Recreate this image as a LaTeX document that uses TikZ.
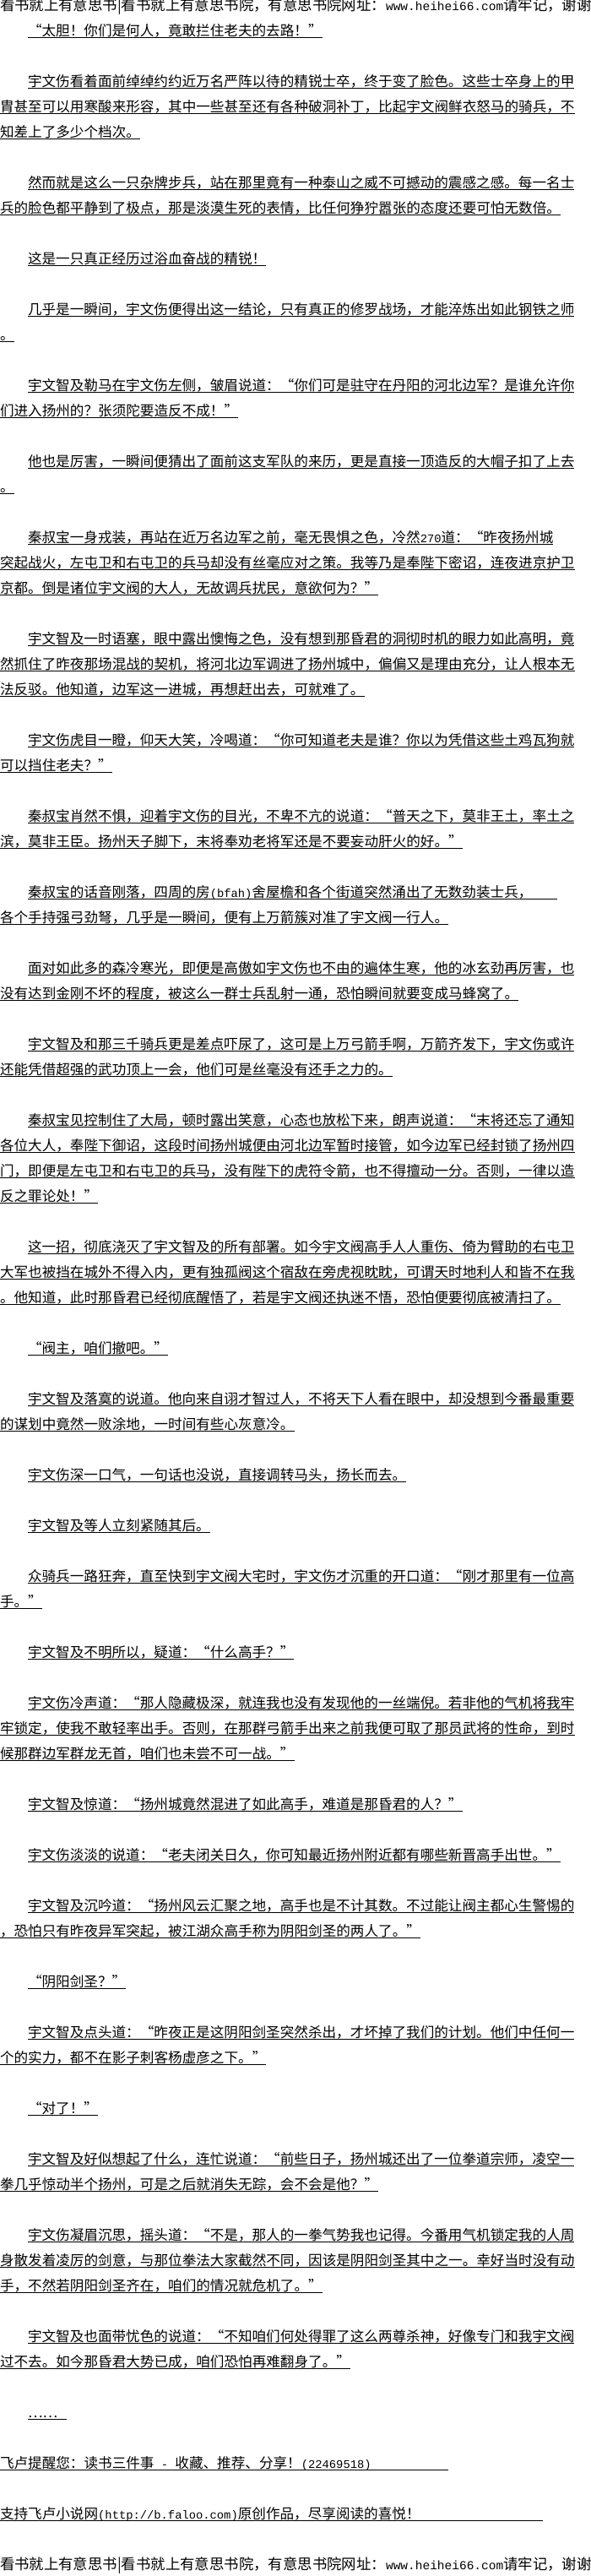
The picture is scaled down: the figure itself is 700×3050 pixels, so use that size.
\documentclass[tikz,border=0pt]{standalone}
\usepackage{fontspec}
\newfontfamily\cjk{Noto Sans CJK SC}
\newfontfamily\latmono{Liberation Mono}
\newcommand\qo{\makebox[1em][r]{“}}
\newcommand\qc{\makebox[1em][l]{”}}
\newcommand\lat[1]{{\latmono\fontsize{13.8pt}{13.8pt}\selectfont #1}}
\newcommand\lath[1]{{\latmono\fontsize{14.5pt}{14.5pt}\selectfont #1}}
\tikzset{
  tl/.style={inner sep=0pt, outer sep=0pt, anchor=base west, text=black,
    font=\cjk\fontsize{16.6pt}{16.6pt}\selectfont},
  hd/.style={tl, font=\cjk\fontsize{17.4pt}{17.4pt}\selectfont},
  ul/.style={draw=black, line width=1pt}
}
% #1 slot, #2 x start, #3 text
\newcommand\TL[3]{%
  \node[tl] (l#1) at (#2,{97+30*(#1)+5.5}) {#3};
  \draw[ul] ([yshift=-1.5pt]l#1.base west) -- ([yshift=-1.5pt]l#1.base east);
}
% #1 slot, #2 x start, #3 underline end, #4 text
\newcommand\TLx[4]{%
  \node[tl] (l#1) at (#2,{97+30*(#1)+5.5}) {#4};
  \coordinate (e#1) at (#3,{97+30*(#1)+5.5});
  \draw[ul] ([yshift=-1.5pt]l#1.base west) -- ([yshift=-1.5pt]e#1);
}
\begin{document}
\begin{tikzpicture}[x=1pt,y=-1pt]
\fill[white] (0,0) rectangle (700,3050);
\useasboundingbox (0,0) rectangle (700,3050);

\node[hd] (hdr) at (0,{97+30*(-3)+5.5}) {看书就上有意思书|看书就上有意思书院，有意思书院网址：\lath{www.heihei66.com}请牢记，谢谢};

\node[tl] (lq) at (33,{97+30*(-2)+5.5}) {\qo{}太胆！你们是何人，竟敢拦住老夫的去路！\qc{}};
\draw[ul] ([yshift=-1.5pt]lq.base west) -- ([yshift=-1.5pt]lq.base east);

\TL{0}{33}{宇文伤看着面前绰绰约约近万名严阵以待的精锐士卒，终于变了脸色。这些士卒身上的甲}
\TL{1}{0}{胄甚至可以用寒酸来形容，其中一些甚至还有各种破洞补丁，比起宇文阀鲜衣怒马的骑兵，不}
\TL{2}{0}{知差上了多少个档次。}

\TL{4}{33}{然而就是这么一只杂牌步兵，站在那里竟有一种泰山之威不可撼动的震感之感。每一名士}
\TL{5}{0}{兵的脸色都平静到了极点，那是淡漠生死的表情，比任何狰狞嚣张的态度还要可怕无数倍。}

\TL{7}{33}{这是一只真正经历过浴血奋战的精锐！}

\TL{9}{33}{几乎是一瞬间，宇文伤便得出这一结论，只有真正的修罗战场，才能淬炼出如此钢铁之师}
\TL{10}{0}{。}

\TL{12}{33}{宇文智及勒马在宇文伤左侧，皱眉说道：\qo{}你们可是驻守在丹阳的河北边军？是谁允许你}
\TL{13}{0}{们进入扬州的？张须陀要造反不成！\qc{}}

\TL{15}{33}{他也是厉害，一瞬间便猜出了面前这支军队的来历，更是直接一顶造反的大帽子扣了上去}
\TL{16}{0}{。}

\TL{18}{33}{秦叔宝一身戎装，再站在近万名边军之前，毫无畏惧之色，冷然\lat{270}道：\qo{}昨夜扬州城}
\TL{19}{0}{突起战火，左屯卫和右屯卫的兵马却没有丝毫应对之策。我等乃是奉陛下密诏，连夜进京护卫}
\TL{20}{0}{京都。倒是诸位宇文阀的大人，无故调兵扰民，意欲何为？\qc{}}

\TL{22}{33}{宇文智及一时语塞，眼中露出懊悔之色，没有想到那昏君的洞彻时机的眼力如此高明，竟}
\TL{23}{0}{然抓住了昨夜那场混战的契机，将河北边军调进了扬州城中，偏偏又是理由充分，让人根本无}
\TL{24}{0}{法反驳。他知道，边军这一进城，再想赶出去，可就难了。}

\TL{26}{33}{宇文伤虎目一瞪，仰天大笑，冷喝道：\qo{}你可知道老夫是谁？你以为凭借这些土鸡瓦狗就}
\TL{27}{0}{可以挡住老夫？\qc{}}

\TL{29}{33}{秦叔宝肖然不惧，迎着宇文伤的目光，不卑不亢的说道：\qo{}普天之下，莫非王土，率土之}
\TL{30}{0}{滨，莫非王臣。扬州天子脚下，末将奉劝老将军还是不要妄动肝火的好。\qc{}}

\TLx{32}{33}{660}{秦叔宝的话音刚落，四周的房\lat{(bfah)}舍屋檐和各个街道突然涌出了无数劲装士兵，}
\TL{33}{0}{各个手持强弓劲弩，几乎是一瞬间，便有上万箭簇对准了宇文阀一行人。}

\TL{35}{33}{面对如此多的森冷寒光，即便是高傲如宇文伤也不由的遍体生寒，他的冰玄劲再厉害，也}
\TL{36}{0}{没有达到金刚不坏的程度，被这么一群士兵乱射一通，恐怕瞬间就要变成马蜂窝了。}

\TL{38}{33}{宇文智及和那三千骑兵更是差点吓尿了，这可是上万弓箭手啊，万箭齐发下，宇文伤或许}
\TL{39}{0}{还能凭借超强的武功顶上一会，他们可是丝毫没有还手之力的。}

\TL{41}{33}{秦叔宝见控制住了大局，顿时露出笑意，心态也放松下来，朗声说道：\qo{}末将还忘了通知}
\TL{42}{0}{各位大人，奉陛下御诏，这段时间扬州城便由河北边军暂时接管，如今边军已经封锁了扬州四}
\TL{43}{0}{门，即便是左屯卫和右屯卫的兵马，没有陛下的虎符令箭，也不得擅动一分。否则，一律以造}
\TL{44}{0}{反之罪论处！\qc{}}

\TL{46}{33}{这一招，彻底浇灭了宇文智及的所有部署。如今宇文阀高手人人重伤、倚为臂助的右屯卫}
\TL{47}{0}{大军也被挡在城外不得入内，更有独孤阀这个宿敌在旁虎视眈眈，可谓天时地利人和皆不在我}
\TL{48}{0}{。他知道，此时那昏君已经彻底醒悟了，若是宇文阀还执迷不悟，恐怕便要彻底被清扫了。}

\TL{50}{33}{\qo{}阀主，咱们撤吧。\qc{}}

\TL{52}{33}{宇文智及落寞的说道。他向来自诩才智过人，不将天下人看在眼中，却没想到今番最重要}
\TL{53}{0}{的谋划中竟然一败涂地，一时间有些心灰意冷。}

\TL{55}{33}{宇文伤深一口气，一句话也没说，直接调转马头，扬长而去。}

\TL{57}{33}{宇文智及等人立刻紧随其后。}

\TL{59}{33}{众骑兵一路狂奔，直至快到宇文阀大宅时，宇文伤才沉重的开口道：\qo{}刚才那里有一位高}
\TL{60}{0}{手。\qc{}}

\TL{62}{33}{宇文智及不明所以，疑道：\qo{}什么高手？\qc{}}

\TL{64}{33}{宇文伤冷声道：\qo{}那人隐藏极深，就连我也没有发现他的一丝端倪。若非他的气机将我牢}
\TL{65}{0}{牢锁定，使我不敢轻率出手。否则，在那群弓箭手出来之前我便可取了那员武将的性命，到时}
\TL{66}{0}{候那群边军群龙无首，咱们也未尝不可一战。\qc{}}

\TL{68}{33}{宇文智及惊道：\qo{}扬州城竟然混进了如此高手，难道是那昏君的人？\qc{}}

\TL{70}{33}{宇文伤淡淡的说道：\qo{}老夫闭关日久，你可知最近扬州附近都有哪些新晋高手出世。\qc{}}

\TL{72}{33}{宇文智及沉吟道：\qo{}扬州风云汇聚之地，高手也是不计其数。不过能让阀主都心生警惕的}
\TL{73}{0}{，恐怕只有昨夜异军突起，被江湖众高手称为阴阳剑圣的两人了。\qc{}}

\TL{75}{33}{\qo{}阴阳剑圣？\qc{}}

\TL{77}{33}{宇文智及点头道：\qo{}昨夜正是这阴阳剑圣突然杀出，才坏掉了我们的计划。他们中任何一}
\TL{78}{0}{个的实力，都不在影子刺客杨虚彦之下。\qc{}}

\TL{80}{33}{\qo{}对了！\qc{}}

\TL{82}{33}{宇文智及好似想起了什么，连忙说道：\qo{}前些日子，扬州城还出了一位拳道宗师，凌空一}
\TL{83}{0}{拳几乎惊动半个扬州，可是之后就消失无踪，会不会是他？\qc{}}

\TL{85}{33}{宇文伤凝眉沉思，摇头道：\qo{}不是，那人的一拳气势我也记得。今番用气机锁定我的人周}
\TL{86}{0}{身散发着凌厉的剑意，与那位拳法大家截然不同，因该是阴阳剑圣其中之一。幸好当时没有动}
\TL{87}{0}{手，不然若阴阳剑圣齐在，咱们的情况就危机了。\qc{}}

\TL{89}{33}{宇文智及也面带忧色的说道：\qo{}不知咱们何处得罪了这么两尊杀神，好像专门和我宇文阀}
\TL{90}{0}{过不去。如今那昏君大势已成，咱们恐怕再难翻身了。\qc{}}

\TLx{92}{33}{79}{……}

\TLx{94}{0}{531}{飞卢提醒您：读书三件事\lat{~-~}收藏、推荐、分享！\lat{(22469518)}}

\TLx{96}{0}{643}{支持飞卢小说网\lat{(http://b.faloo.com)}原创作品，尽享阅读的喜悦！}

\node[hd] (ftr) at (0,{97+30*(98)+5.5}) {看书就上有意思书|看书就上有意思书院，有意思书院网址：\lath{www.heihei66.com}请牢记，谢谢};
\end{tikzpicture}
\end{document}
